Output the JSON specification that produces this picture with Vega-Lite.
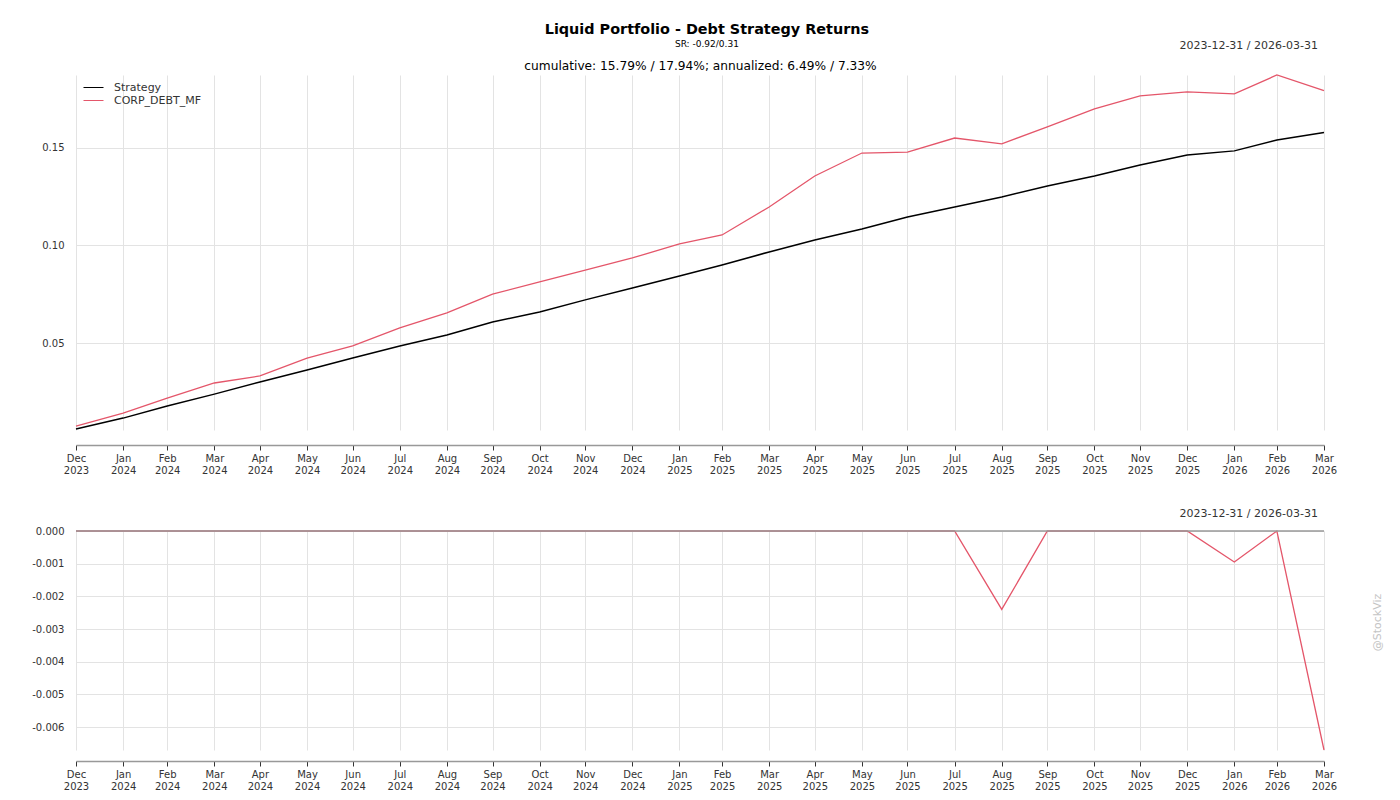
{
  "$schema": "https://vega.github.io/schema/vega-lite/v6.json",
  "background": "white",
  "padding": {"left": 31, "top": 21, "right": 8, "bottom": 0},
  "config": {
    "font": "DejaVu Sans",
    "view": {"stroke": null},
    "axis": {"labelFont": "DejaVu Sans", "labelFontSize": 10, "labelColor": "#333333", "gridColor": "#e3e3e3", "gridWidth": 1, "titleFont": "DejaVu Sans"},
    "title": {"font": "DejaVu Sans"}
  },
  "title": {
    "text": "Liquid Portfolio - Debt Strategy Returns",
    "subtitle": "SR: -0.92/0.31",
    "fontSize": 14.4,
    "fontWeight": "bold",
    "color": "#000000",
    "subtitleFontSize": 9,
    "subtitleColor": "#000000",
    "subtitlePadding": 3,
    "anchor": "middle",
    "offset": -10
  },
  "datasets": {
    "d": [
      {"date": "2023-12-31", "series": "Strategy", "cum": 0.0059, "dd": 0},
      {"date": "2024-01-31", "series": "Strategy", "cum": 0.0115, "dd": 0},
      {"date": "2024-02-29", "series": "Strategy", "cum": 0.0177, "dd": 0},
      {"date": "2024-03-31", "series": "Strategy", "cum": 0.0238, "dd": 0},
      {"date": "2024-04-30", "series": "Strategy", "cum": 0.0300, "dd": 0},
      {"date": "2024-05-31", "series": "Strategy", "cum": 0.0362, "dd": 0},
      {"date": "2024-06-30", "series": "Strategy", "cum": 0.0423, "dd": 0},
      {"date": "2024-07-31", "series": "Strategy", "cum": 0.0485, "dd": 0},
      {"date": "2024-08-31", "series": "Strategy", "cum": 0.0541, "dd": 0},
      {"date": "2024-09-30", "series": "Strategy", "cum": 0.0608, "dd": 0},
      {"date": "2024-10-31", "series": "Strategy", "cum": 0.0659, "dd": 0},
      {"date": "2024-11-30", "series": "Strategy", "cum": 0.0721, "dd": 0},
      {"date": "2024-12-31", "series": "Strategy", "cum": 0.0782, "dd": 0},
      {"date": "2025-01-31", "series": "Strategy", "cum": 0.0844, "dd": 0},
      {"date": "2025-02-28", "series": "Strategy", "cum": 0.0900, "dd": 0},
      {"date": "2025-03-31", "series": "Strategy", "cum": 0.0967, "dd": 0},
      {"date": "2025-04-30", "series": "Strategy", "cum": 0.1028, "dd": 0},
      {"date": "2025-05-31", "series": "Strategy", "cum": 0.1085, "dd": 0},
      {"date": "2025-06-30", "series": "Strategy", "cum": 0.1146, "dd": 0},
      {"date": "2025-07-31", "series": "Strategy", "cum": 0.1197, "dd": 0},
      {"date": "2025-08-31", "series": "Strategy", "cum": 0.1249, "dd": 0},
      {"date": "2025-09-30", "series": "Strategy", "cum": 0.1305, "dd": 0},
      {"date": "2025-10-31", "series": "Strategy", "cum": 0.1356, "dd": 0},
      {"date": "2025-11-30", "series": "Strategy", "cum": 0.1413, "dd": 0},
      {"date": "2025-12-31", "series": "Strategy", "cum": 0.1464, "dd": 0},
      {"date": "2026-01-31", "series": "Strategy", "cum": 0.1485, "dd": 0},
      {"date": "2026-02-28", "series": "Strategy", "cum": 0.1541, "dd": 0},
      {"date": "2026-03-31", "series": "Strategy", "cum": 0.1579, "dd": 0},
      {"date": "2023-12-31", "series": "CORP_DEBT_MF", "cum": 0.0074, "dd": 0},
      {"date": "2024-01-31", "series": "CORP_DEBT_MF", "cum": 0.0141, "dd": 0},
      {"date": "2024-02-29", "series": "CORP_DEBT_MF", "cum": 0.0218, "dd": 0},
      {"date": "2024-03-31", "series": "CORP_DEBT_MF", "cum": 0.0295, "dd": 0},
      {"date": "2024-04-30", "series": "CORP_DEBT_MF", "cum": 0.0331, "dd": 0},
      {"date": "2024-05-31", "series": "CORP_DEBT_MF", "cum": 0.0423, "dd": 0},
      {"date": "2024-06-30", "series": "CORP_DEBT_MF", "cum": 0.0485, "dd": 0},
      {"date": "2024-07-31", "series": "CORP_DEBT_MF", "cum": 0.0577, "dd": 0},
      {"date": "2024-08-31", "series": "CORP_DEBT_MF", "cum": 0.0654, "dd": 0},
      {"date": "2024-09-30", "series": "CORP_DEBT_MF", "cum": 0.0751, "dd": 0},
      {"date": "2024-10-31", "series": "CORP_DEBT_MF", "cum": 0.0813, "dd": 0},
      {"date": "2024-11-30", "series": "CORP_DEBT_MF", "cum": 0.0874, "dd": 0},
      {"date": "2024-12-31", "series": "CORP_DEBT_MF", "cum": 0.0936, "dd": 0},
      {"date": "2025-01-31", "series": "CORP_DEBT_MF", "cum": 0.1008, "dd": 0},
      {"date": "2025-02-28", "series": "CORP_DEBT_MF", "cum": 0.1054, "dd": 0},
      {"date": "2025-03-31", "series": "CORP_DEBT_MF", "cum": 0.1197, "dd": 0},
      {"date": "2025-04-30", "series": "CORP_DEBT_MF", "cum": 0.1356, "dd": 0},
      {"date": "2025-05-31", "series": "CORP_DEBT_MF", "cum": 0.1474, "dd": 0},
      {"date": "2025-06-30", "series": "CORP_DEBT_MF", "cum": 0.1479, "dd": 0},
      {"date": "2025-07-31", "series": "CORP_DEBT_MF", "cum": 0.1551, "dd": 0},
      {"date": "2025-08-31", "series": "CORP_DEBT_MF", "cum": 0.1521, "dd": -0.0024},
      {"date": "2025-09-30", "series": "CORP_DEBT_MF", "cum": 0.1608, "dd": 0},
      {"date": "2025-10-31", "series": "CORP_DEBT_MF", "cum": 0.1700, "dd": 0},
      {"date": "2025-11-30", "series": "CORP_DEBT_MF", "cum": 0.1767, "dd": 0},
      {"date": "2025-12-31", "series": "CORP_DEBT_MF", "cum": 0.1787, "dd": 0},
      {"date": "2026-01-31", "series": "CORP_DEBT_MF", "cum": 0.1777, "dd": -0.00095},
      {"date": "2026-02-28", "series": "CORP_DEBT_MF", "cum": 0.1874, "dd": 0},
      {"date": "2026-03-31", "series": "CORP_DEBT_MF", "cum": 0.1794, "dd": -0.0067}
    ]
  },
  "spacing": 33,
  "vconcat": [
    {
      "width": 1248,
      "height": 355,
      "data": {"name": "d"},
      "title": {"text": "2023-12-31 / 2026-03-31", "anchor": "end", "frame": "group", "fontSize": 11, "fontWeight": "normal", "color": "#333333", "offset": 8, "dx": -6},
      "layer": [
        {
          "transform": [{"filter": "datum.series === 'Strategy'"}],
          "mark": {"type": "line", "strokeWidth": 1.5},
          "encoding": {
            "x": {
              "field": "date", "type": "temporal",
              "scale": {"type": "utc", "nice": false},
              "axis": {
                "orient": "bottom", "title": null, "offset": 15,
                "values": [
                  {"year": 2023, "month": 12, "date": 31, "utc": true},
                  {"year": 2024, "month": 1, "date": 31, "utc": true},
                  {"year": 2024, "month": 2, "date": 29, "utc": true},
                  {"year": 2024, "month": 3, "date": 31, "utc": true},
                  {"year": 2024, "month": 4, "date": 30, "utc": true},
                  {"year": 2024, "month": 5, "date": 31, "utc": true},
                  {"year": 2024, "month": 6, "date": 30, "utc": true},
                  {"year": 2024, "month": 7, "date": 31, "utc": true},
                  {"year": 2024, "month": 8, "date": 31, "utc": true},
                  {"year": 2024, "month": 9, "date": 30, "utc": true},
                  {"year": 2024, "month": 10, "date": 31, "utc": true},
                  {"year": 2024, "month": 11, "date": 30, "utc": true},
                  {"year": 2024, "month": 12, "date": 31, "utc": true},
                  {"year": 2025, "month": 1, "date": 31, "utc": true},
                  {"year": 2025, "month": 2, "date": 28, "utc": true},
                  {"year": 2025, "month": 3, "date": 31, "utc": true},
                  {"year": 2025, "month": 4, "date": 30, "utc": true},
                  {"year": 2025, "month": 5, "date": 31, "utc": true},
                  {"year": 2025, "month": 6, "date": 30, "utc": true},
                  {"year": 2025, "month": 7, "date": 31, "utc": true},
                  {"year": 2025, "month": 8, "date": 31, "utc": true},
                  {"year": 2025, "month": 9, "date": 30, "utc": true},
                  {"year": 2025, "month": 10, "date": 31, "utc": true},
                  {"year": 2025, "month": 11, "date": 30, "utc": true},
                  {"year": 2025, "month": 12, "date": 31, "utc": true},
                  {"year": 2026, "month": 1, "date": 31, "utc": true},
                  {"year": 2026, "month": 2, "date": 28, "utc": true},
                  {"year": 2026, "month": 3, "date": 31, "utc": true}
                ],
                "labelExpr": "[utcFormat(datum.value, '%b'), utcFormat(datum.value, '%Y')]",
                "labelAlign": "center", "labelFlush": false, "labelOverlap": false,
                "labelPadding": 3, "labelLineHeight": 12,
                "domainColor": "#999999", "domainWidth": 1.5,
                "tickColor": "#333333", "tickSize": 5, "tickWidth": 1,
                "grid": true
              }
            },
            "y": {
              "field": "cum", "type": "quantitative",
              "scale": {"domain": [0.0054, 0.1874], "nice": false, "zero": false},
              "axis": {"title": null, "values": [0.05, 0.1, 0.15], "format": ".2f", "domain": false, "ticks": false, "labelPadding": 12, "grid": true}
            },
            "color": {
              "field": "series", "type": "nominal",
              "scale": {"domain": ["Strategy", "CORP_DEBT_MF"], "range": ["#000000", "#e4566a"]},
              "legend": {"title": null, "orient": "top-left", "offset": 7, "symbolType": "M-1,0H3", "symbolSize": 100, "symbolStrokeWidth": 1, "labelFontSize": 11, "labelColor": "#333333", "labelOffset": 20, "rowPadding": 1, "padding": 0}
            }
          }
        },
        {
          "transform": [{"filter": "datum.series === 'CORP_DEBT_MF'"}],
          "mark": {"type": "line", "strokeWidth": 1.3},
          "encoding": {
            "x": {
              "field": "date", "type": "temporal",
              "axis": {"orient": "top", "labels": false, "ticks": false, "domain": false, "grid": false, "title": "cumulative: 15.79% / 17.94%; annualized: 6.49% / 7.33%", "titleFontSize": 12.2, "titleFontWeight": "normal", "titleColor": "#000000", "titlePadding": 3}
            },
            "y": {"field": "cum", "type": "quantitative"},
            "color": {"field": "series", "type": "nominal"}
          }
        }
      ],
      "resolve": {"axis": {"x": "independent"}}
    },
    {
      "width": 1248,
      "height": 219,
      "data": {"name": "d"},
      "title": {"text": "2023-12-31 / 2026-03-31", "anchor": "end", "frame": "group", "fontSize": 11, "fontWeight": "normal", "color": "#333333", "offset": 7, "dx": -6},
      "layer": [
        {
          "transform": [{"filter": "datum.series === 'CORP_DEBT_MF'"}],
          "mark": {"type": "line", "strokeWidth": 1.3, "color": "#e4566a"},
          "encoding": {
            "x": {
              "field": "date", "type": "temporal",
              "scale": {"type": "utc", "nice": false},
              "axis": {
                "orient": "bottom", "title": null, "offset": 11,
                "values": [
                  {"year": 2023, "month": 12, "date": 31, "utc": true},
                  {"year": 2024, "month": 1, "date": 31, "utc": true},
                  {"year": 2024, "month": 2, "date": 29, "utc": true},
                  {"year": 2024, "month": 3, "date": 31, "utc": true},
                  {"year": 2024, "month": 4, "date": 30, "utc": true},
                  {"year": 2024, "month": 5, "date": 31, "utc": true},
                  {"year": 2024, "month": 6, "date": 30, "utc": true},
                  {"year": 2024, "month": 7, "date": 31, "utc": true},
                  {"year": 2024, "month": 8, "date": 31, "utc": true},
                  {"year": 2024, "month": 9, "date": 30, "utc": true},
                  {"year": 2024, "month": 10, "date": 31, "utc": true},
                  {"year": 2024, "month": 11, "date": 30, "utc": true},
                  {"year": 2024, "month": 12, "date": 31, "utc": true},
                  {"year": 2025, "month": 1, "date": 31, "utc": true},
                  {"year": 2025, "month": 2, "date": 28, "utc": true},
                  {"year": 2025, "month": 3, "date": 31, "utc": true},
                  {"year": 2025, "month": 4, "date": 30, "utc": true},
                  {"year": 2025, "month": 5, "date": 31, "utc": true},
                  {"year": 2025, "month": 6, "date": 30, "utc": true},
                  {"year": 2025, "month": 7, "date": 31, "utc": true},
                  {"year": 2025, "month": 8, "date": 31, "utc": true},
                  {"year": 2025, "month": 9, "date": 30, "utc": true},
                  {"year": 2025, "month": 10, "date": 31, "utc": true},
                  {"year": 2025, "month": 11, "date": 30, "utc": true},
                  {"year": 2025, "month": 12, "date": 31, "utc": true},
                  {"year": 2026, "month": 1, "date": 31, "utc": true},
                  {"year": 2026, "month": 2, "date": 28, "utc": true},
                  {"year": 2026, "month": 3, "date": 31, "utc": true}
                ],
                "labelExpr": "[utcFormat(datum.value, '%b'), utcFormat(datum.value, '%Y')]",
                "labelAlign": "center", "labelFlush": false, "labelOverlap": false,
                "labelPadding": 3, "labelLineHeight": 12,
                "domainColor": "#999999", "domainWidth": 1.5,
                "tickColor": "#333333", "tickSize": 5, "tickWidth": 1,
                "grid": true
              }
            },
            "y": {
              "field": "dd", "type": "quantitative",
              "scale": {"domain": [-0.0067, 0], "nice": false, "zero": false},
              "axis": {"title": null, "values": [0, -0.001, -0.002, -0.003, -0.004, -0.005, -0.006], "labelExpr": "replace(format(datum.value, '.3f'), '−', '-')", "domain": false, "ticks": false, "labelPadding": 12, "grid": true}
            }
          }
        },
        {
          "transform": [{"filter": "datum.series === 'Strategy'"}],
          "mark": {"type": "line", "strokeWidth": 1.5, "color": "#999999"},
          "encoding": {
            "x": {"field": "date", "type": "temporal"},
            "y": {
              "field": "dd", "type": "quantitative",
              "axis": {"orient": "right", "labels": false, "ticks": false, "domain": false, "grid": false, "title": "@StockViz", "titleAngle": 270, "titleFontSize": 11, "titleFontWeight": "normal", "titleColor": "#c4c4c4", "titlePadding": 58, "titleY": 91}
            }
          }
        }
      ],
      "resolve": {"axis": {"y": "independent"}}
    }
  ]
}
